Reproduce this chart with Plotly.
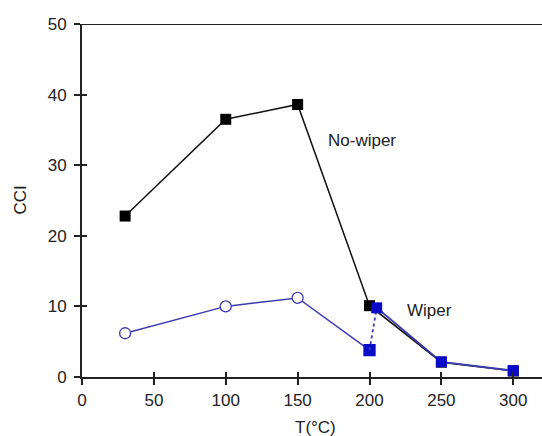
import plotly.graph_objects as go

# Data
temps = [30, 100, 150, 200, 250, 300]
no_wiper = [22.8, 36.5, 38.6, 10.1, 2.1, 0.85]

wiper_a_x = [30, 100, 150, 200]
wiper_a_y = [6.2, 10.0, 11.2, 3.8]
wiper_link_x = [200, 205]
wiper_link_y = [3.8, 9.8]
wiper_b_x = [205, 250, 300]
wiper_b_y = [9.8, 2.15, 0.9]

x_ticks = [0, 50, 100, 150, 200, 250, 300]
y_ticks = [0, 10, 20, 30, 40, 50]

FONT = "Liberation Sans, Arial, sans-serif"
TXT = "#222222"
BLUE_LINE = "#3b3bb0"
BLUE_MK = "#0a0ac8"

fig = go.Figure()

fig.add_trace(go.Scatter(
    x=temps, y=no_wiper, mode="lines+markers",
    line=dict(color="#111111", width=1.5),
    marker=dict(symbol="square", size=11, color="#000000"),
    cliponaxis=False, showlegend=False))

fig.add_trace(go.Scatter(
    x=wiper_a_x, y=wiper_a_y, mode="lines+markers",
    line=dict(color=BLUE_LINE, width=1.5),
    marker=dict(symbol=["circle", "circle", "circle", "square"], size=11,
                color=["white", "white", "white", BLUE_MK],
                line=dict(color=[BLUE_LINE, BLUE_LINE, BLUE_LINE, BLUE_MK], width=1.3),
                opacity=1),
    cliponaxis=False, showlegend=False))

fig.add_trace(go.Scatter(
    x=wiper_link_x, y=wiper_link_y, mode="lines",
    line=dict(color=BLUE_LINE, width=1.8, dash="dot"),
    cliponaxis=False, showlegend=False))

fig.add_trace(go.Scatter(
    x=wiper_b_x, y=wiper_b_y, mode="lines+markers",
    line=dict(color=BLUE_LINE, width=1.8),
    marker=dict(symbol="square", size=11, color=BLUE_MK),
    cliponaxis=False, showlegend=False))

# invisible trace to activate overlay axes (inside tick halves)
fig.add_trace(go.Scatter(x=[None], y=[None], xaxis="x2", yaxis="y2",
                         showlegend=False, hoverinfo="skip"))

XR = [0, 320]
YR = [0, 50]

fig.update_layout(
    width=542, height=436,
    margin=dict(l=82, r=0, t=24, b=59),
    paper_bgcolor="white", plot_bgcolor="white",
    font=dict(family=FONT, size=17, color=TXT),
    xaxis=dict(range=XR, tickvals=x_ticks, ticks="outside", ticklen=6, tickwidth=1.5,
               tickcolor=TXT, showline=True, linecolor=TXT, linewidth=2,
               showgrid=False, zeroline=False, tickfont=dict(size=17, color=TXT),
               ticklabelstandoff=1),
    yaxis=dict(range=YR, tickvals=y_ticks, ticks="outside", ticklen=6, tickwidth=1.5,
               tickcolor=TXT, showline=True, linecolor=TXT, linewidth=2,
               showgrid=False, zeroline=False, tickfont=dict(size=17, color=TXT),
               ticklabelstandoff=4),
    xaxis2=dict(range=XR, tickvals=x_ticks, ticks="inside", ticklen=5, tickwidth=1.5,
                tickcolor=TXT, overlaying="x", showticklabels=False, showgrid=False,
                zeroline=False, showline=False),
    yaxis2=dict(range=YR, tickvals=y_ticks, ticks="inside", ticklen=5, tickwidth=1.5,
                tickcolor=TXT, overlaying="y", showticklabels=False, showgrid=False,
                zeroline=False, showline=False),
    shapes=[dict(type="line", xref="paper", yref="y", x0=-0.013, x1=1, y0=50, y1=50,
                 line=dict(color=TXT, width=2))],
    annotations=[
        dict(text="No-wiper", x=195, y=33.5, xref="x", yref="y", showarrow=False,
             font=dict(size=17, color=TXT)),
        dict(text="Wiper", x=242, y=9.4, xref="x", yref="y", showarrow=False,
             font=dict(size=17, color=TXT)),
        dict(text="T(°C)", x=(315 - 82) / 460, y=0, xref="paper", yref="paper",
             xanchor="center", yanchor="middle", yshift=-50, showarrow=False,
             font=dict(size=17, color=TXT)),
        dict(text="CCI", x=(20 - 82) / 460, y=0.5, xref="paper", yref="paper",
             xanchor="center", yanchor="middle", showarrow=False,
             textangle=-90, font=dict(size=17, color=TXT)),
    ],
)

fig.write_html("out.html")
